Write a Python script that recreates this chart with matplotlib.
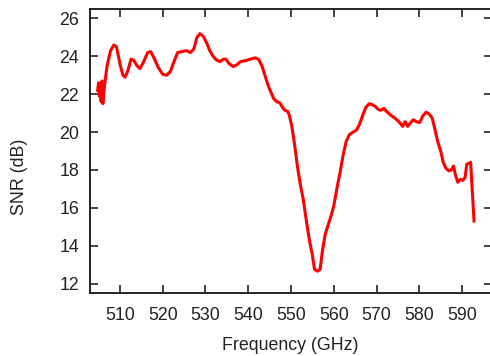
import matplotlib
matplotlib.use('Agg')
import matplotlib.pyplot as plt

# SNR curve (GHz, dB)
freq = [504.8, 505.0, 505.2, 505.4, 505.6, 505.8, 506.0, 506.3, 507.0, 507.8,
        508.6, 509.2, 510.0, 510.7, 511.2, 511.8, 512.6, 513.2, 514.0, 514.7,
        515.5, 516.5, 517.2, 518.0, 519.0, 520.0, 520.9, 521.8, 522.6, 523.5,
        524.5, 525.5, 526.5, 527.3, 528.0, 528.7, 529.5, 530.3, 531.0, 531.8,
        532.6, 533.4, 534.2, 534.8, 535.6, 536.5, 537.3, 538.2, 539.5, 540.5,
        541.6, 542.4, 543.2, 543.9, 544.6, 545.3, 546.0, 546.7, 547.4, 548.0,
        548.6, 549.2, 549.6, 550.2, 550.8, 551.5, 552.2, 552.9, 553.6, 554.3,
        555.0, 555.5, 556.2, 556.8, 557.4, 558.0, 558.7, 559.4, 560.0, 560.8,
        561.5, 562.2, 562.9, 563.6, 564.5, 565.3, 566.0, 566.8, 567.5, 568.3,
        569.0, 569.7, 570.4, 571.0, 571.7, 572.5, 573.3, 574.2, 575.0, 575.6,
        576.1, 576.7, 577.3, 578.0, 578.6, 579.3, 580.1, 580.8, 581.6, 582.3,
        583.0, 583.6, 584.3, 585.0, 585.6, 586.2, 586.9, 587.5, 588.0, 588.5,
        589.0, 589.6, 590.2, 590.7, 591.1, 591.6, 592.0, 592.3, 592.5, 592.8]
snr = [22.2, 22.6, 21.9, 22.5, 21.6, 22.7, 21.5, 22.3, 23.5, 24.3,
       24.6, 24.5, 23.6, 23.0, 22.9, 23.2, 23.85, 23.8, 23.5, 23.35,
       23.7, 24.2, 24.25, 23.9, 23.4, 23.05, 23.0, 23.2, 23.7, 24.2,
       24.25, 24.3, 24.2, 24.4, 25.0, 25.2, 25.05, 24.7, 24.3, 24.0,
       23.8, 23.72, 23.85, 23.85, 23.6, 23.46, 23.55, 23.72, 23.78, 23.85,
       23.92, 23.85, 23.5, 23.0, 22.5, 22.1, 21.75, 21.6, 21.55, 21.3,
       21.15, 21.1, 20.9, 20.3, 19.4, 18.2, 17.2, 16.4, 15.3, 14.3,
       13.5, 12.75, 12.65, 12.75, 13.8, 14.6, 15.1, 15.6, 16.1, 17.1,
       17.9, 18.8, 19.5, 19.85, 20.0, 20.1, 20.4, 20.9, 21.3, 21.5,
       21.45, 21.35, 21.2, 21.15, 21.25, 21.05, 20.9, 20.75, 20.6, 20.45,
       20.3, 20.55, 20.3, 20.5, 20.65, 20.55, 20.5, 20.85, 21.05, 20.95,
       20.75, 20.2, 19.5, 19.0, 18.4, 18.1, 17.95, 18.0, 18.2, 17.7,
       17.35, 17.5, 17.45, 17.6, 18.3, 18.35, 18.4, 17.2, 16.3, 15.3]

xticks = [510, 520, 530, 540, 550, 560, 570, 580, 590]
yticks = [12, 14, 16, 18, 20, 22, 24, 26]

plt.rcParams['font.family'] = ['Liberation Sans', 'DejaVu Sans']
plt.rcParams['font.size'] = 12.8

fig = plt.figure(figsize=(4.9, 3.56), dpi=100)
ax = fig.add_axes([90 / 490, 63 / 356, 402 / 490, 284 / 356])

ax.plot(freq, snr, color='#ff0000', linewidth=2.2)

ax.set_xlim(503, 597)
ax.set_ylim(11.5, 26.5)
ax.set_xticks(xticks)
ax.set_yticks(yticks)
ax.tick_params(direction='in', length=6, width=1.2, top=True, right=True,
               colors='#222222', labelcolor='#222222')
ax.tick_params(axis='x', pad=10)
ax.tick_params(axis='y', pad=8)
for s in ax.spines.values():
    s.set_linewidth(1.4)
    s.set_color('#222222')

fig.text(20 / 490, 1 - 177 / 356, 'SNR (dB)', rotation=90,
         ha='center', va='center', color='#222222')
fig.text(290 / 490, 1 - 345 / 356, 'Frequency (GHz)',
         ha='center', va='center', color='#222222')

fig.savefig('out.png', dpi=100)
